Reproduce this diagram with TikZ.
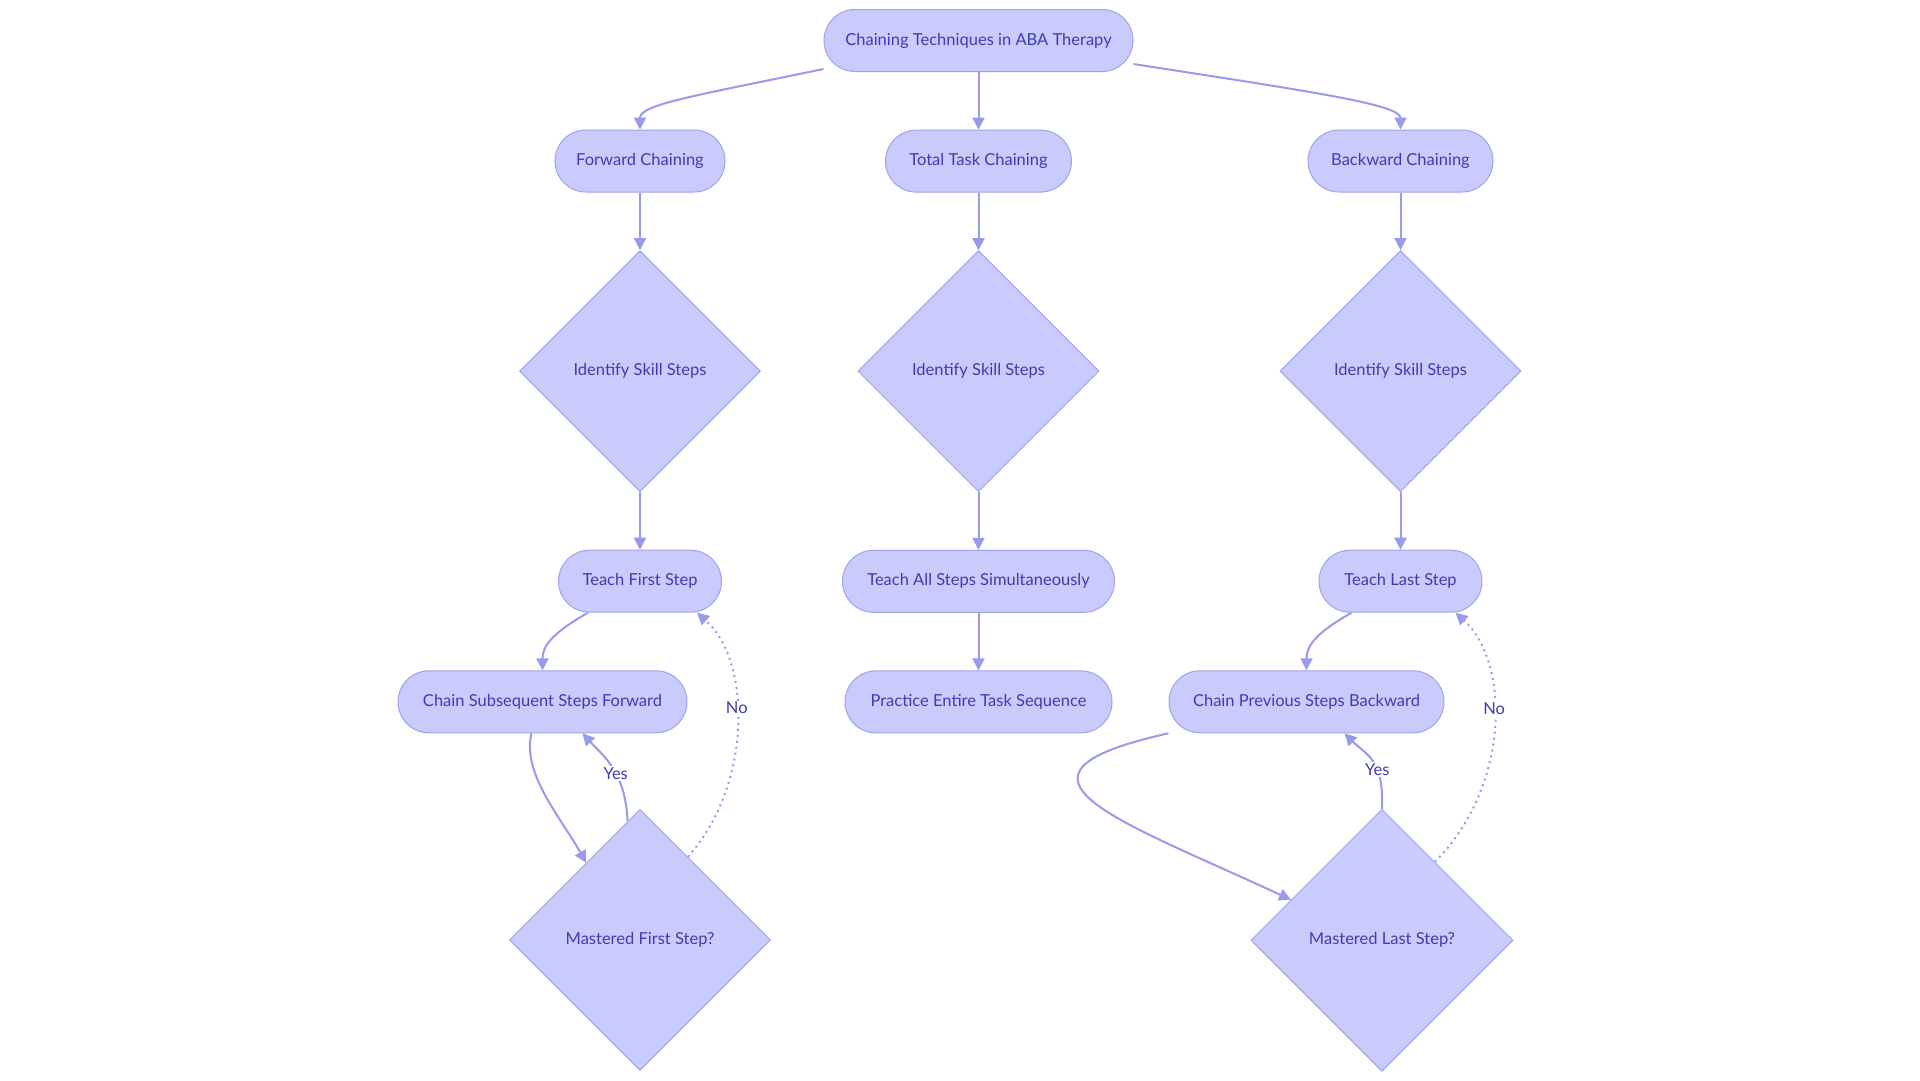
\documentclass[tikz,border=0pt]{standalone}
\usepackage{fontspec}
\setmainfont{Lato}
\usepackage{tikz}
\usetikzlibrary{arrows.meta,positioning,calc,shapes.geometric}
\definecolor{nodefill}{HTML}{C9CBFD}
\definecolor{nodeline}{HTML}{A0A3EA}
\definecolor{edgeline}{HTML}{989BEA}
\definecolor{labeltext}{HTML}{3B3DB4}
\tikzset{
	termbox/.style={draw=nodeline, fill=nodefill, rounded corners=31pt, align=center,
		minimum height=62pt, inner xsep=18pt, text=labeltext, line width=1pt,
		font=\fontsize{16.5}{20}\selectfont},
	decision/.style={diamond, aspect=1, draw=nodeline, fill=nodefill, align=center,
		inner sep=0pt, text=labeltext, line width=1pt,
		font=\fontsize{16.5}{20}\selectfont},
	arrow/.style={-{Triangle[length=12pt,width=12pt]}, draw=edgeline, line width=2pt},
	dottedarrow/.style={arrow, dash pattern=on 2pt off 4pt},
	edgelabel/.style={fill=white, text=labeltext, inner sep=1.5pt,
		font=\fontsize{16.5}{20}\selectfont}
}
\begin{document}
\begin{tikzpicture}[x=1pt, y=-1pt, node distance=57.6pt]
	\fill[white] (0,0) rectangle (1920,1080);
	\useasboundingbox (0,0) rectangle (1920,1080);
	
	%% -- Root
	\node[termbox, minimum width=309pt] (root) at (978.5,40.5) {Chaining Techniques in ABA Therapy};
	
	%% -- Three techniques
	\node[termbox, minimum width=170pt] (fwd) at (640,161) {Forward Chaining};
	\node[termbox, minimum width=186pt, below=of root] (ttc) {Total Task Chaining};
	\node[termbox, minimum width=185pt] (bwd) at (1400.5,161) {Backward Chaining};
	
	%% -- Identify steps
	\node[decision, minimum width=241pt, minimum height=241pt, below=of fwd] (isf) {Identify Skill Steps};
	\node[decision, minimum width=241pt, minimum height=241pt, below=of ttc] (ist) {Identify Skill Steps};
	\node[decision, minimum width=241pt, minimum height=241pt, below=of bwd] (isb) {Identify Skill Steps};
	
	%% -- Teaching
	\node[termbox, minimum width=163pt, below=of isf] (tfs) {Teach First Step};
	\node[termbox, minimum width=272pt, below=of ist] (tas) {Teach All Steps Simultaneously};
	\node[termbox, minimum width=163pt, below=of isb] (tls) {Teach Last Step};
	
	%% -- Chaining
	\node[termbox, minimum width=289pt, below=of tfs, xshift=-97.5pt] (csf) {Chain Subsequent Steps Forward};
	\node[termbox, minimum width=267pt, below=of tas] (pet) {Practice Entire Task Sequence};
	\node[termbox, minimum width=275pt, below=of tls, xshift=-94pt] (cpb) {Chain Previous Steps Backward};
	
	%% -- Mastery checks
	\node[decision, minimum width=261pt, minimum height=261pt, below=75.5pt of csf, xshift=97.5pt] (mfs) {Mastered First Step?};
	\node[decision, minimum width=262pt, minimum height=262pt, below=75.5pt of cpb, xshift=75.5pt] (mls) {Mastered Last Step?};
	
	%% -- Root to techniques
	\draw[arrow] ([yshift=3pt]root.south west) .. controls +(-130,27) and +(0,-25) .. (fwd.north);
	\draw[arrow] (root) -- (ttc);
	\draw[arrow] ([yshift=8pt]root.south east) .. controls +(180,28) and +(0,-25) .. (bwd.north);
	
	%% -- Straight flows
	\draw[arrow] (fwd) -- (isf);
	\draw[arrow] (isf) -- (tfs);
	\draw[arrow] (ttc) -- (ist);
	\draw[arrow] (ist) -- (tas);
	\draw[arrow] (tas) -- (pet);
	\draw[arrow] (bwd) -- (isb);
	\draw[arrow] (isb) -- (tls);
	
	%% -- Forward loop
	\draw[arrow] ([xshift=-52pt]tfs.south) .. controls +(-35,20) and +(0,-25) .. (csf.north);
	\draw[arrow] ([xshift=-11pt]csf.south) .. controls +(-10,40) and +(-25,-45) .. (mfs.125);
	\draw[arrow] (mfs.96) .. controls +(-2,-50) and +(20,22) .. ([xshift=40pt]csf.south)
		node[edgelabel, pos=0.42] {Yes};
	\draw[dottedarrow] (mfs.60) .. controls +(63,-70) and +(56,50) .. ([xshift=-25pt]tfs.south east)
		node[edgelabel, pos=0.57] {No};
	
	%% -- Backward loop
	\draw[arrow] ([xshift=-49pt]tls.south) .. controls +(-35,20) and +(0,-25) .. (cpb.north);
	\draw[arrow] (cpb.south west) .. controls +(-189,42) and +(-172,-80) .. (mls.156);
	\draw[arrow] (mls.north) .. controls +(2,-50) and +(22,22) .. ([xshift=38pt]cpb.south)
		node[edgelabel, pos=0.36] {Yes};
	\draw[dottedarrow] (mls.56) .. controls +(75,-75) and +(55,50) .. ([xshift=-27pt]tls.south east)
		node[edgelabel, pos=0.57] {No};
	
\end{tikzpicture}
\end{document}
